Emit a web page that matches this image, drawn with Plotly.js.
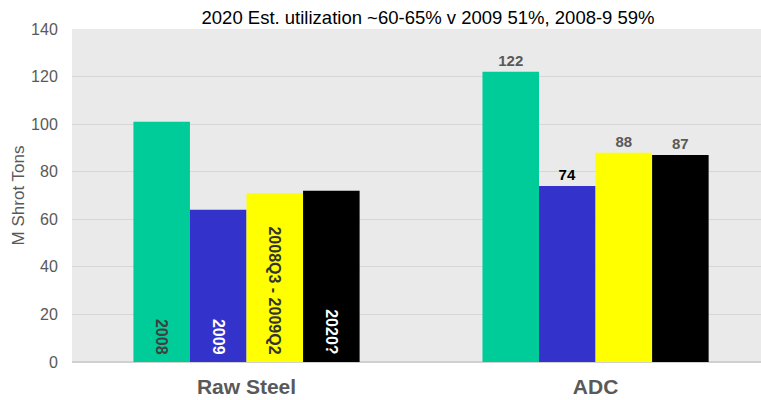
<!DOCTYPE html>
<html><head><meta charset="utf-8">
<script src="https://cdn.plot.ly/plotly-3.0.1.min.js"></script>
<style>body{margin:0;padding:0;background:#fff}#chart{width:761px;height:400px}</style>
</head><body><div id="chart"></div>
<script>
const categories = ["Raw Steel", "ADC"];
const seriesNames = ["2008", "2009", "2008Q3 - 2009Q2", "2020?"];
const values2008 = [101, 122];
const values2009 = [64, 74];
const valuesQ = [71, 88];
const values2020 = [72, 87];
const seriesValues = [values2008, values2009, valuesQ, values2020];
const colors = ["#00CC99", "#3333CC", "#FFFF00", "#000000"];
const insideColors = ["#404040", "#FFFFFF", "#333333", "#FFFFFF"];
const outsideColors = ["#595959", "#000000", "#595959", "#595959"];

const traces = [];
seriesNames.forEach((name, i) => {
  traces.push({
    type: "bar", x: [categories[0]], y: [seriesValues[i][0]],
    offsetgroup: "g" + i, name: name, showlegend: false,
    marker: {color: colors[i]},
    text: [name], texttemplate: "%{text}\u00a0", textposition: "inside", insidetextanchor: "start",
    textangle: 90, constraintext: "none",
    textfont: {family: "Liberation Sans, Arial, sans-serif", size: 16, color: insideColors[i], weight: "bold"},
    hoverinfo: "x+y+name"
  });
  traces.push({
    type: "bar", x: [categories[1]], y: [seriesValues[i][1]],
    offsetgroup: "g" + i, name: name, showlegend: false,
    marker: {color: colors[i]},
    text: [String(seriesValues[i][1])], textposition: "outside", textangle: 0,
    cliponaxis: false, constraintext: "none",
    textfont: {family: "Liberation Sans, Arial, sans-serif", size: 15, color: outsideColors[i], weight: "bold"},
    hoverinfo: "x+y+name"
  });
});

const layout = {
  width: 761, height: 400,
  margin: {l: 72, r: 0, t: 29, b: 38},
  paper_bgcolor: "#FFFFFF",
  plot_bgcolor: "#EAEAEA",
  font: {family: "Liberation Sans, Arial, sans-serif", color: "#595959"},
  title: {text: "2020 Est. utilization ~60-65% v 2009 51%, 2008-9 59%",
          font: {size: 18.5, color: "#000000"}, x: 0.5625, xanchor: "center", y: 0.957, yanchor: "middle"},
  barmode: "group", bargap: 0.352, bargroupgap: 0,
  showlegend: false,
  xaxis: {type: "category", range: [-0.5, 1.474], showgrid: false, zeroline: false,
          showline: false, ticks: "", ticklabelstandoff: 10,
          tickfont: {size: 21, color: "#595959", weight: "bold"}},
  yaxis: {range: [0, 140], dtick: 20, tick0: 0, showgrid: true, gridcolor: "#D6D6D6", gridwidth: 1,
          zeroline: true, zerolinecolor: "#D0D0D0", zerolinewidth: 2,
          ticks: "outside", ticklen: 10, tickcolor: "rgba(0,0,0,0)",
          tickfont: {size: 16, color: "#595959"},
          title: {text: "M Shrot Tons", font: {size: 17, color: "#595959"}, standoff: 2}}
};
Plotly.newPlot("chart", traces, layout, {displayModeBar: false, staticPlot: true});
</script></body></html>
